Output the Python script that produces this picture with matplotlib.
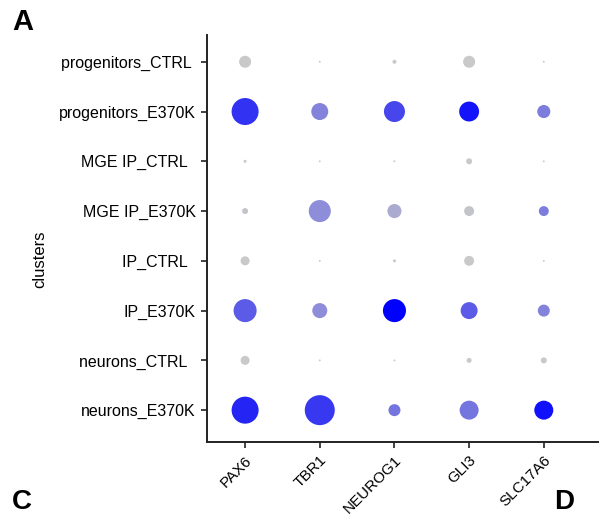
import numpy as np
import matplotlib.pyplot as plt
from matplotlib.colors import LinearSegmentedColormap

plt.rcParams['font.family'] = ['Liberation Sans', 'DejaVu Sans']

genes = ['PAX6', 'TBR1', 'NEUROG1', 'GLI3', 'SLC17A6']
clusters = ['progenitors_CTRL ', 'progenitors_E370K', 'MGE IP_CTRL  ', 'MGE IP_E370K',
            'IP_CTRL  ', 'IP_E370K', 'neurons_CTRL  ', 'neurons_E370K']

# percent of cells expressing (rows = clusters, cols = genes)
pct_expr = [
    [16, 0.4, 1.8, 16, 0.4],
    [81, 32, 49, 44, 19],
    [1.0, 0.4, 0.4, 4, 0.4],
    [4, 54, 22, 11, 11],
    [9, 0.4, 1.0, 11, 0.4],
    [59, 25, 59, 32, 16],
    [9, 0.4, 0.4, 2.8, 4],
    [81, 100, 16, 40, 40],
]

# scaled average expression (0 = grey, 1 = blue)
avg_expr = [
    [0, 0, 0, 0, 0],
    [0.75, 0.35, 0.65, 0.9, 0.38],
    [0, 0, 0, 0, 0],
    [0.03, 0.3, 0.15, 0.03, 0.38],
    [0, 0, 0, 0, 0],
    [0.55, 0.3, 1.0, 0.55, 0.35],
    [0, 0, 0, 0, 0],
    [0.82, 0.72, 0.42, 0.42, 0.92],
]

cmap = LinearSegmentedColormap.from_list('gb', ['#c9c9c9', '#0000ff'])

fig = plt.figure(figsize=(5.99, 5.16), dpi=100)
ax = fig.add_axes([0.3456, 0.1434, 0.652, 0.789])

xs, ys, ss, cs = [], [], [], []
for i in range(len(clusters)):
    for j in range(len(genes)):
        xs.append(j)
        ys.append(i)
        ss.append(pct_expr[i][j] * 4.67)
        cs.append(avg_expr[i][j])
ax.scatter(xs, ys, s=ss, c=cs, cmap=cmap, vmin=0, vmax=1, linewidths=0)

ax.set_xlim(-0.51, 4.72)
ax.set_ylim(7.64, -0.54)
ax.set_xticks(range(len(genes)))
ax.set_xticklabels(genes, rotation=45, ha='right', rotation_mode='anchor', fontsize=11)
ax.set_yticks(range(len(clusters)))
ax.set_yticklabels(clusters, fontsize=11.5)
ax.set_ylabel('clusters', fontsize=12)
ax.yaxis.set_label_coords(-0.41, 0.45)
for side in ['top', 'right']:
    ax.spines[side].set_visible(False)
for side in ['left', 'bottom']:
    ax.spines[side].set_linewidth(1.4)
    ax.spines[side].set_color('#222222')
ax.tick_params(length=4, width=1.2, color='#222222', pad=4)

fig.text(0.02, 0.985, 'A', fontsize=21, fontweight='bold', va='top')
fig.text(0.02, 0.002, 'C', fontsize=20, fontweight='bold', va='bottom')
fig.text(0.925, 0.002, 'D', fontsize=20, fontweight='bold', va='bottom')

fig.savefig('out.png', dpi=100)
